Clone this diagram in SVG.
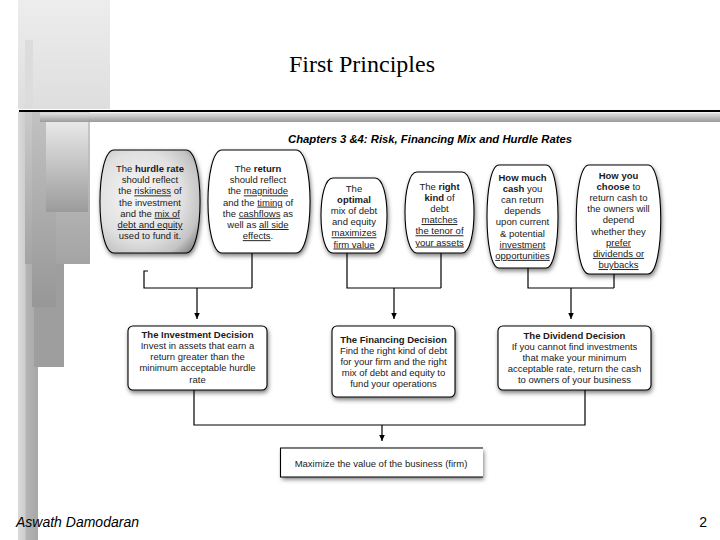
<svg xmlns="http://www.w3.org/2000/svg" width="720" height="540" viewBox="0 0 720 540">
<defs>
<linearGradient id="gTop" x1="0" y1="0" x2="0" y2="1"><stop offset="0" stop-color="#ededed"/><stop offset="1" stop-color="#dedede"/></linearGradient>
<linearGradient id="gCol" x1="0" y1="0" x2="1" y2="0"><stop offset="0" stop-color="#dadada"/><stop offset="0.35" stop-color="#cfcfcf"/><stop offset="0.4" stop-color="#b4b4b4"/><stop offset="1" stop-color="#a8a8a8"/></linearGradient>
<linearGradient id="gV1" x1="0" y1="0" x2="0" y2="1"><stop offset="0" stop-color="#cacaca"/><stop offset="1" stop-color="#a4a4a4"/></linearGradient>
<linearGradient id="gV2" x1="0" y1="0" x2="0" y2="1"><stop offset="0" stop-color="#c2c2c2"/><stop offset="1" stop-color="#979797"/></linearGradient>
<linearGradient id="gV3" x1="0" y1="0" x2="0" y2="1"><stop offset="0" stop-color="#e8e8e8"/><stop offset="1" stop-color="#9b9b9b"/></linearGradient>
<linearGradient id="gBar" x1="0" y1="0" x2="0" y2="1"><stop offset="0" stop-color="#e6e6e6"/><stop offset="1" stop-color="#9a9a9a"/></linearGradient>
<radialGradient id="gBox1" cx="0.4" cy="0.45" r="0.72"><stop offset="0" stop-color="#f8f8f8"/><stop offset="0.6" stop-color="#e0e0e0"/><stop offset="0.85" stop-color="#c4c4c4"/><stop offset="1" stop-color="#8e8e8e"/></radialGradient>
<filter id="sh" x="-20%" y="-20%" width="140%" height="150%"><feDropShadow dx="1" dy="2.5" stdDeviation="2" flood-color="#000" flood-opacity="0.5"/></filter>
<marker id="ah" markerWidth="6" markerHeight="7" refX="3" refY="6.5" orient="0" markerUnits="userSpaceOnUse"><path d="M0,0 L6,0 L3,6.5 Z" fill="#000"/></marker>
</defs>
<style>
.bx{fill:#fff;stroke:#000;stroke-width:1.1;filter:url(#sh)}
.t{font-family:"Liberation Sans",Arial,sans-serif;font-size:9.5px;fill:#1a1a1a;text-anchor:middle}
.b{font-weight:bold}
.u{text-decoration:underline}
.ln{fill:none;stroke:#000;stroke-width:1.2}
</style>
<rect width="720" height="540" fill="#fff"/>
<g id="decoration">
<rect x="18" y="0" width="92" height="109" fill="url(#gTop)"/>
<rect x="25" y="40" width="8" height="69" fill="#dcdcdc"/>
<rect x="18" y="112" width="20" height="428" fill="url(#gCol)"/>
<rect x="25" y="112" width="65" height="152" fill="url(#gV1)"/>
<rect x="34" y="264" width="30" height="103" fill="#9e9e9e"/>
<rect x="32" y="112" width="24" height="195" fill="url(#gV2)"/>
<rect x="46" y="122" width="42" height="90" fill="url(#gV3)"/>
<rect x="40" y="112.5" width="680" height="9.5" fill="url(#gBar)"/>
<line x1="19" y1="111" x2="720" y2="111" stroke="#000" stroke-width="2"/>
</g>
<text x="362" y="72" font-family="Liberation Serif,'Times New Roman',serif" font-size="24" text-anchor="middle" fill="#000">First Principles</text>
<text x="288" y="143" font-family="Liberation Sans,Arial,sans-serif" font-size="11.2" font-weight="bold" font-style="italic" fill="#000" textLength="284" lengthAdjust="spacingAndGlyphs">Chapters 3 &amp;4: Risk, Financing Mix and Hurdle Rates</text>
<g id="connectors">
<path class="ln" d="M148,271 H144 V288 H252 M252,253 V288"/>
<path class="ln" d="M197,288 V319" marker-end="url(#ah)"/>
<path class="ln" d="M347,253 V288 H441 M441,253 V288"/>
<path class="ln" d="M394,288 V319" marker-end="url(#ah)"/>
<path class="ln" d="M528,268 V288 H614 M614,274 V288"/>
<path class="ln" d="M571,288 V319" marker-end="url(#ah)"/>
<path class="ln" d="M194,390 V425 H585 V390"/>
<path class="ln" d="M382,425 V441" marker-end="url(#ah)"/>
</g>
<g id="n1">
<path d="M114,150 H186 C204.7,150 204.7,253 186,253 H114 C95.3,253 95.3,150 114,150 Z" fill="url(#gBox1)" stroke="#000" stroke-width="1.1" filter="url(#sh)"/>
<text class="t"><tspan x="150" y="172">The <tspan class="b">hurdle rate</tspan></tspan><tspan x="150" y="183.2">should reflect</tspan><tspan x="150" y="194.4">the <tspan class="u">riskiness</tspan> of</tspan><tspan x="150" y="205.6">the investment</tspan><tspan x="150" y="216.8">and the <tspan class="u">mix of</tspan></tspan><tspan x="150" y="228" class="u">debt and equity</tspan><tspan x="150" y="239.2">used to fund it.</tspan></text>
</g>
<g id="n2">
<path class="bx" d="M222,150 H296 C314.7,150 314.7,253 296,253 H222 C203.3,253 203.3,150 222,150 Z"/>
<text class="t"><tspan x="258" y="172">The <tspan class="b">return</tspan></tspan><tspan x="258" y="183.2">should reflect</tspan><tspan x="258" y="194.4">the <tspan class="u">magnitude</tspan></tspan><tspan x="258" y="205.6">and the <tspan class="u">timing</tspan> of</tspan><tspan x="258" y="216.8">the <tspan class="u">cashflows</tspan> as</tspan><tspan x="258" y="228">well as <tspan class="u">all side</tspan></tspan><tspan x="258" y="239.2"><tspan class="u">effects</tspan>.</tspan></text>
</g>
<g id="n3">
<path class="bx" d="M333,178 H375 C391,178 391,253 375,253 H333 C317,253 317,178 333,178 Z"/>
<text class="t"><tspan x="354" y="191.5">The</tspan><tspan x="354" y="202.7" class="b">optimal</tspan><tspan x="354" y="213.9">mix of debt</tspan><tspan x="354" y="225.1">and equity</tspan><tspan x="354" y="236.3" class="u">maximizes</tspan><tspan x="354" y="247.5" class="u">firm value</tspan></text>
</g>
<g id="n4">
<path class="bx" d="M417,172 H462 C478,172 478,253 462,253 H417 C401,253 401,172 417,172 Z"/>
<text class="t"><tspan x="439.5" y="189.5">The <tspan class="b">right</tspan></tspan><tspan x="439.5" y="200.7"><tspan class="b">kind</tspan> of</tspan><tspan x="439.5" y="211.9">debt</tspan><tspan x="439.5" y="223.1" class="u">matches</tspan><tspan x="439.5" y="234.3" class="u">the tenor of</tspan><tspan x="439.5" y="245.5" class="u">your assets</tspan></text>
</g>
<g id="n5">
<path class="bx" d="M499,165 H546 C562,165 562,268 546,268 H499 C483,268 483,165 499,165 Z"/>
<text class="t"><tspan x="522.5" y="180.5" class="b">How much</tspan><tspan x="522.5" y="191.7"><tspan class="b">cash</tspan> you</tspan><tspan x="522.5" y="202.9">can return</tspan><tspan x="522.5" y="214.1">depends</tspan><tspan x="522.5" y="225.3">upon current</tspan><tspan x="522.5" y="236.5">&amp; potential</tspan><tspan x="522.5" y="247.7" class="u">investment</tspan><tspan x="522.5" y="258.9" class="u">opportunities</tspan></text>
</g>
<g id="n6">
<path class="bx" d="M589,165 H648 C665,165 665,274 648,274 H589 C572,274 572,165 589,165 Z"/>
<text class="t"><tspan x="618.5" y="178.5" class="b">How you</tspan><tspan x="618.5" y="189.7"><tspan class="b">choose</tspan> to</tspan><tspan x="618.5" y="200.9">return cash to</tspan><tspan x="618.5" y="212.1">the owners will</tspan><tspan x="618.5" y="223.3">depend</tspan><tspan x="618.5" y="234.5">whether they</tspan><tspan x="618.5" y="245.7" class="u">prefer</tspan><tspan x="618.5" y="256.9" class="u">dividends or</tspan><tspan x="618.5" y="268.1" class="u">buybacks</tspan></text>
</g>
<g id="investment">
<rect class="bx" x="128" y="326" width="139" height="64" rx="5"/>
<text class="t"><tspan x="197.5" y="337.5" class="b">The Investment Decision</tspan><tspan x="197.5" y="348.8">Invest in assets that earn a</tspan><tspan x="197.5" y="360.1">return greater than the</tspan><tspan x="197.5" y="371.4">minimum acceptable hurdle</tspan><tspan x="197.5" y="382.7">rate</tspan></text>
</g>
<g id="financing">
<rect class="bx" x="332" y="326" width="123" height="71" rx="5"/>
<text class="t"><tspan x="393.5" y="342.5" class="b">The Financing Decision</tspan><tspan x="393.5" y="353.7">Find the right kind of debt</tspan><tspan x="393.5" y="364.9">for your firm and the right</tspan><tspan x="393.5" y="376.1">mix of debt and equity to</tspan><tspan x="393.5" y="387.3">fund your operations</tspan></text>
</g>
<g id="dividend">
<rect class="bx" x="498" y="326" width="153" height="64" rx="5"/>
<text class="t"><tspan x="574.5" y="338.5" class="b">The Dividend Decision</tspan><tspan x="574.5" y="349.7">If you cannot find investments</tspan><tspan x="574.5" y="360.9">that make your minimum</tspan><tspan x="574.5" y="372.1">acceptable rate, return the cash</tspan><tspan x="574.5" y="383.3">to owners of your business</tspan></text>
</g>
<g id="maximize">
<rect x="281" y="448" width="202" height="29" fill="#fff" filter="url(#sh)"/>
<path d="M483,448 H280.5 V477 H483" fill="none" stroke="#000" stroke-width="1.1"/>
<text class="t" x="381" y="466.5">Maximize the value of the business (firm)</text>
</g>
<text x="16" y="527" font-family="Liberation Sans,Arial,sans-serif" font-size="14" font-style="italic" fill="#000">Aswath Damodaran</text>
<text x="707" y="527" font-family="Liberation Sans,Arial,sans-serif" font-size="14" text-anchor="end" fill="#000">2</text>
</svg>
